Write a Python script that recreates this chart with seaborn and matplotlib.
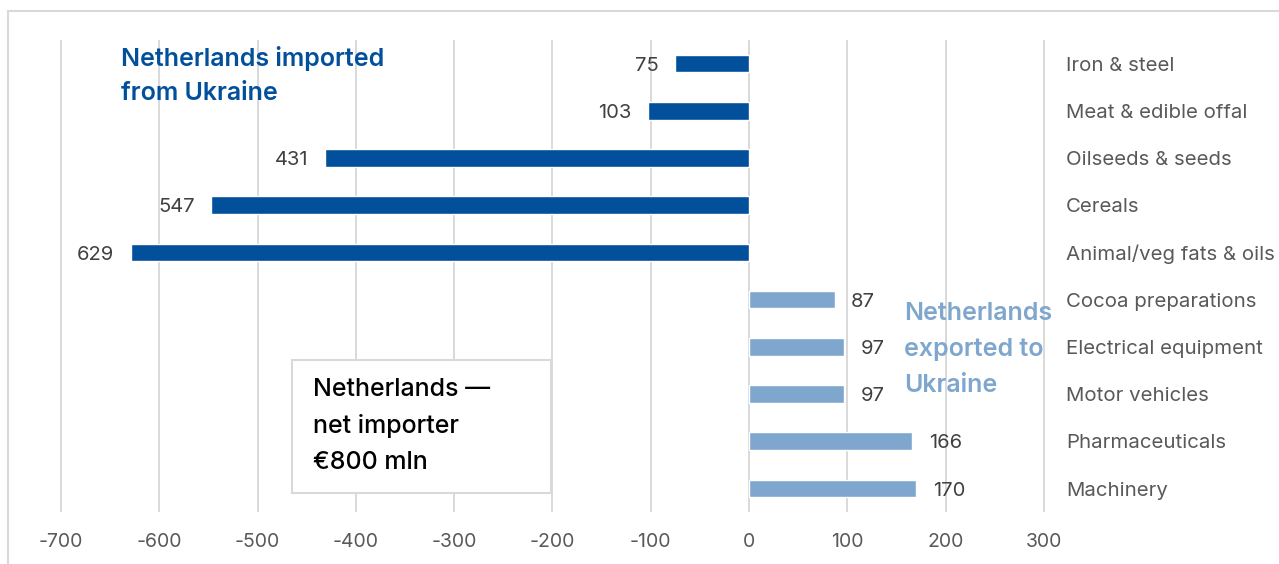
import numpy as np
import pandas as pd
import seaborn as sns
import matplotlib.pyplot as plt
from matplotlib.patches import Rectangle

import_cats = ["Iron & steel", "Meat & edible offal", "Oilseeds & seeds", "Cereals",
               "Animal/veg fats & oils"]
import_vals = [75, 103, 431, 547, 629]
export_cats = ["Cocoa preparations", "Electrical equipment", "Motor vehicles",
               "Pharmaceuticals", "Machinery"]
export_vals = [87, 97, 97, 166, 170]
x_ticks = [-700, -600, -500, -400, -300, -200, -100, 0, 100, 200, 300]

dark_blue = "#02509c"
light_blue = "#7fa7ce"
grey_txt = "#595959"
val_txt = "#404040"
grid_col = "#d9d9d9"

df = pd.DataFrame({
    "category": import_cats + export_cats,
    "value": [-v for v in import_vals] + export_vals,
    "group": ["import"] * len(import_cats) + ["export"] * len(export_cats),
})

sns.set_style("white")
plt.rcParams["font.family"] = ["Inter", "DejaVu Sans"]

fig = plt.figure(figsize=(12.79, 5.64), dpi=100)
ppu = 0.983  # pixels per data unit
x0, x1 = -710, 310
left_px = 749 + x0 * ppu
ax = fig.add_axes([left_px / 1279, (564 - 512) / 564, (x1 - x0) * ppu / 1279, 472 / 564])

sns.barplot(data=df, x="value", y="category", hue="group",
            palette={"import": dark_blue, "export": light_blue},
            dodge=False, width=0.37, legend=False, ax=ax, zorder=3,
            saturation=1)

ax.set_xlim(x0, x1)
ax.set_ylim(len(df) - 0.5, -0.5)
ax.set_xticks(x_ticks)
ax.set_xticklabels([str(t) for t in x_ticks], color=grey_txt, fontsize=14)
ax.tick_params(axis="x", length=0, pad=15)
ax.set_yticks([])
ax.set_xlabel("")
ax.set_ylabel("")
for s in ax.spines.values():
    s.set_visible(False)
for t in x_ticks:
    ax.axvline(t, color=grid_col, lw=1.4, zorder=0)

dy = 0.045  # Inter sits a touch high when centred

# value labels
for i, v in enumerate(df["value"]):
    if v < 0:
        ax.annotate(str(-v), (v, i + dy), xytext=(-12, 0), textcoords="offset points",
                    ha="right", va="center", fontsize=14.5, color=val_txt)
    else:
        ax.annotate(str(v), (v, i + dy), xytext=(12, 0), textcoords="offset points",
                    ha="left", va="center", fontsize=14.5, color=val_txt)

# category labels on the right
for i, c in enumerate(df["category"]):
    ax.text(322.5, i + dy, c, ha="left", va="center", fontsize=14.7, color=grey_txt,
            clip_on=False)

ax.text(-639, -0.15 + dy, "Netherlands imported", ha="left", va="center",
        fontsize=18, fontweight="semibold", color=dark_blue)
ax.text(-639, 0.59 + dy, "from Ukraine", ha="left", va="center",
        fontsize=18, fontweight="semibold", color=dark_blue)

for y, line in zip([5.23, 5.99, 6.76], ["Netherlands", "exported to", "Ukraine"]):
    ax.text(157.7, y + dy + 0.02, line, ha="left", va="center", fontsize=18,
            fontweight="semibold", color=light_blue, clip_on=False)

ax.add_patch(Rectangle((-465, 6.27), 263.6, 2.82, facecolor="white",
                       edgecolor=grid_col, lw=1.5, zorder=4))
for y, line in zip([6.86, 7.63, 8.39], ["Netherlands \u2014", "net importer", "\u20ac800 mln"]):
    ax.text(-443.5, y + dy + 0.01, line, ha="left", va="center", fontsize=18,
            fontweight="medium", color="black", zorder=5)

fig.add_artist(Rectangle((8 / 1279, -0.1), 1.2, 1.1 - 11 / 564, transform=fig.transFigure,
                         fill=False, edgecolor=grid_col, lw=1.5))

fig.savefig("out.png", dpi=100)
